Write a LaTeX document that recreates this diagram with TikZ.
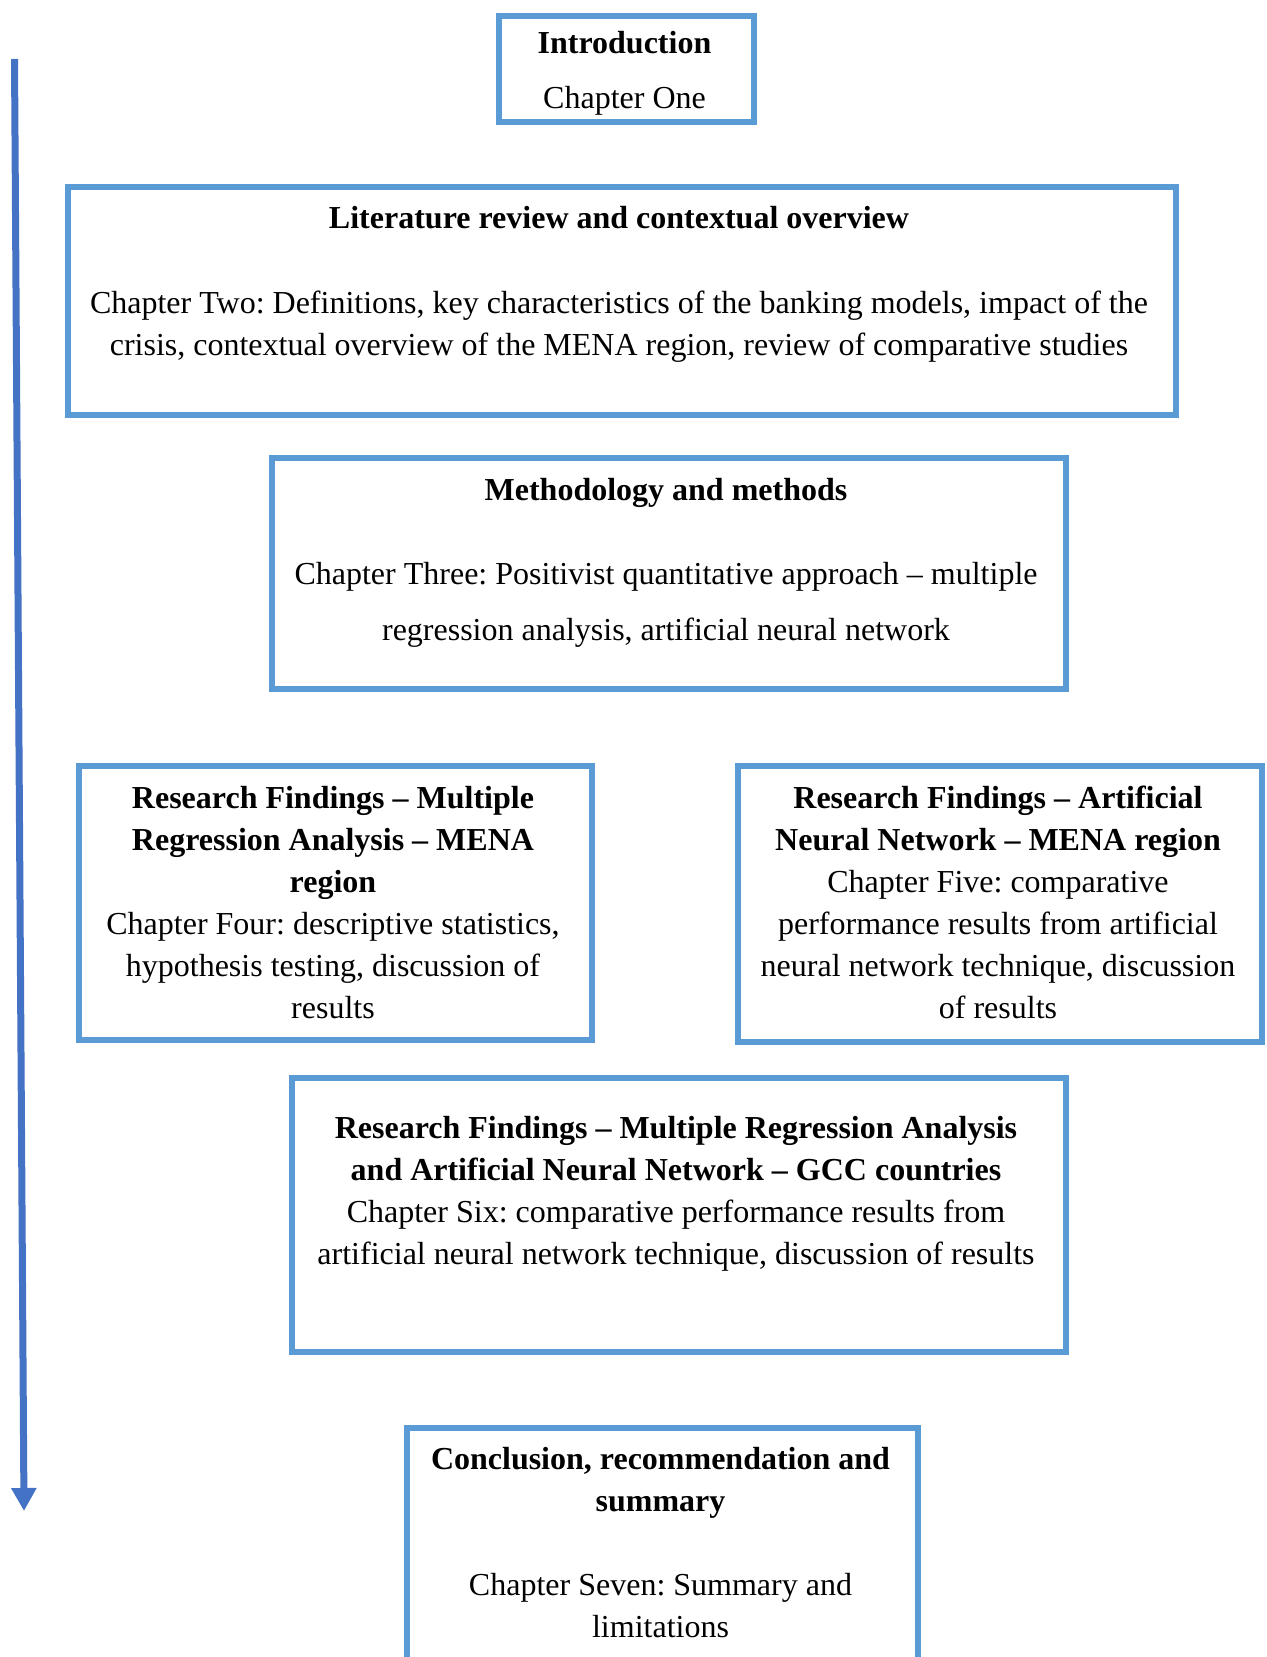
\documentclass[tikz,border=0pt]{standalone}
\usepackage{fontspec}
\setmainfont{Liberation Serif}
\usetikzlibrary{arrows.meta,fit}
\definecolor{boxblue}{HTML}{5B9BD5}
\definecolor{arrowblue}{HTML}{4472C4}
\begin{document}
\frenchspacing
\begin{tikzpicture}[x=0.5pt,y=-0.5pt,
  chapbox/.style={draw=boxblue,line width=3pt,inner sep=0pt},
  chaptext/.style={anchor=north,inner sep=0pt,align=center,font=\fontsize{16}{21}\selectfont\frenchspacing},
  flow/.style={draw=arrowblue,line width=3.5pt,-{Triangle[width=12pt,length=11.5pt]}}
]
\useasboundingbox (0,0) rectangle (1266,1657);

% boxes
\node[chapbox,fit={(499,16) (754,122)}] (intro) {};
\node[chapbox,fit={(68,187) (1176,415)}] (lit) {};
\node[chapbox,fit={(272,458) (1066,689)}] (meth) {};
\node[chapbox,fit={(79,766) (592,1040)}] (mra) {};
\node[chapbox,fit={(738,766) (1262,1042)}] (ann) {};
\node[chapbox,fit={(292,1078) (1066,1352)}] (gcc) {};
\node[chapbox,fit={(407,1428) (918,1720)}] (concl) {};

% texts
\node[chaptext] (introT) at (624.5,24)
  {\strut\textbf{Introduction}\\[6.5pt]Chapter One};
\node[chaptext] (litT) at (619,198.5)
  {\strut\textbf{Literature review and contextual overview}\\[21.5pt]
   Chapter Two: Definitions, key characteristics of the banking models, impact of the\\
   crisis, contextual overview of the MENA region, review of comparative studies};
\node[chaptext] (methT) at (666,470.5)
  {\strut\textbf{Methodology and methods}\\[21pt]
   Chapter Three: Positivist quantitative approach – multiple\\[7pt]
   regression analysis, artificial neural network};
\node[chaptext] (mraT) at (333,778.5)
  {\strut\textbf{Research Findings – Multiple}\\
   \textbf{Regression Analysis – MENA}\\
   \textbf{region}\\
   Chapter Four: descriptive statistics,\\
   hypothesis testing, discussion of\\
   results};
\node[chaptext] (annT) at (998,778.5)
  {\strut\textbf{Research Findings – Artificial}\\
   \textbf{Neural Network – MENA region}\\
   Chapter Five: comparative\\
   performance results from artificial\\
   neural network technique, discussion\\
   of results};
\node[chaptext] (gccT) at (676,1108.5)
  {\strut\textbf{Research Findings – Multiple Regression Analysis}\\
   \textbf{and Artificial Neural Network – GCC countries}\\
   Chapter Six: comparative performance results from\\
   artificial neural network technique, discussion of results};
\node[chaptext] (conclT) at (660.5,1440)
  {\strut\textbf{Conclusion, recommendation and}\\
   \textbf{summary}\\[21pt]
   Chapter Seven: Summary and\\
   limitations};

% reading-order arrow
\coordinate (arrS) at (14.5,59);
\coordinate (arrE) at (24,1511);
\draw[flow] (arrS) -- (arrE);
\end{tikzpicture}
\end{document}
